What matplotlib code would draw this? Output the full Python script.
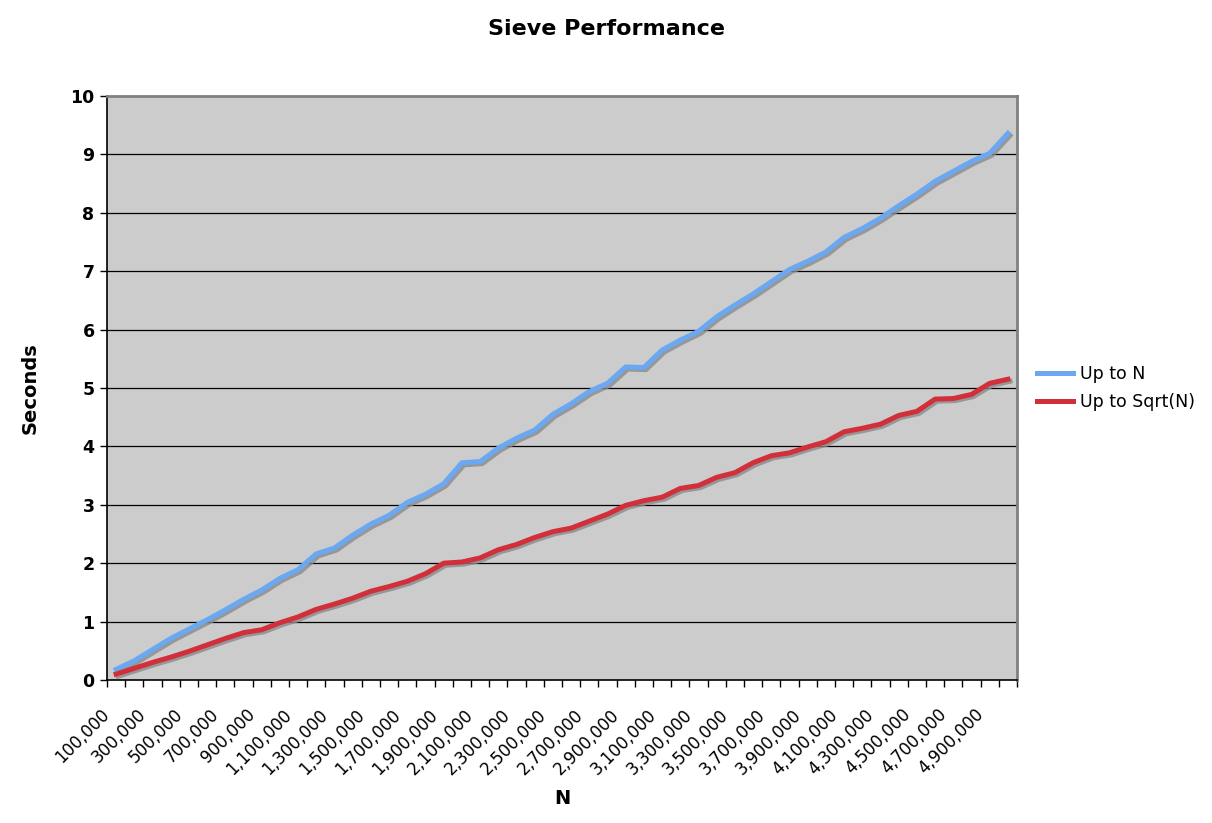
import numpy as np
import matplotlib
matplotlib.use("Agg")
import matplotlib.pyplot as plt
import matplotlib.patheffects as pe
from matplotlib.lines import Line2D

# N values (categories) and timings in seconds
n_values = list(range(100000, 5000001, 100000))
up_to_n = [0.18, 0.33, 0.52, 0.71, 0.87, 1.03, 1.20, 1.38, 1.54, 1.74,
           1.89, 2.16, 2.26, 2.48, 2.67, 2.82, 3.04, 3.18, 3.36, 3.72,
           3.74, 3.97, 4.14, 4.28, 4.55, 4.73, 4.94, 5.08, 5.36, 5.35,
           5.65, 5.82, 5.97, 6.22, 6.42, 6.61, 6.82, 7.03, 7.17, 7.33,
           7.58, 7.73, 7.91, 8.12, 8.32, 8.54, 8.71, 8.88, 9.02, 9.36]
up_to_sqrt = [0.10, 0.20, 0.30, 0.39, 0.49, 0.60, 0.71, 0.81, 0.86, 0.98,
              1.08, 1.21, 1.30, 1.40, 1.52, 1.60, 1.69, 1.82, 2.00, 2.02,
              2.09, 2.23, 2.32, 2.44, 2.54, 2.60, 2.72, 2.84, 2.99, 3.07,
              3.13, 3.28, 3.33, 3.47, 3.55, 3.72, 3.84, 3.89, 3.99, 4.08,
              4.25, 4.31, 4.38, 4.53, 4.60, 4.81, 4.82, 4.89, 5.08, 5.15]
labels = [f"{n:,}" for n in n_values]
blue, red = "#6aa8f2", "#d1303a"

fig = plt.figure(figsize=(12.12, 8.23), dpi=100)
ax = fig.add_axes([0.0883, 0.1738, 0.7508, 0.7095])
ax.set_facecolor("#cccccc")

x = np.arange(len(n_values))
shadow = [pe.SimpleLineShadow(offset=(1.5, -1.5), shadow_color="#8a8a8a", alpha=0.8), pe.Normal()]
ax.plot(x, up_to_n, color=blue, lw=3.6, path_effects=shadow, zorder=3)
ax.plot(x, up_to_sqrt, color=red, lw=3.6, path_effects=shadow, zorder=3)

ax.set_xlim(-0.5, len(n_values) - 0.5)
ax.set_ylim(0, 10)
ax.set_yticks(range(0, 11))
ax.set_yticklabels([str(v) for v in range(0, 11)], fontweight="bold", fontsize=12.5)
for v in range(1, 10):
    ax.axhline(v, color="black", lw=0.9, zorder=1)

# ticks between categories; every other label, hung from the category's left tick
ax.set_xticks(np.arange(-0.5, len(n_values), 1.0), minor=True)
ax.set_xticks(x[::2] - 0.5)
ax.set_xticklabels(labels[::2], rotation=45, ha="right", va="center",
                   rotation_mode="anchor", fontsize=12)
ax.tick_params(axis="x", which="both", length=5, width=1, direction="out",
               color="black", pad=18)
ax.tick_params(axis="y", length=5, width=1, direction="out", pad=4)

for side in ["top", "right"]:
    ax.spines[side].set_color("#808080")
    ax.spines[side].set_linewidth(2)
for side in ["left", "bottom"]:
    ax.spines[side].set_color("black")
    ax.spines[side].set_linewidth(1.2)

fig.text(0.5, 0.965, "Sieve Performance", ha="center", va="center",
         fontsize=16, fontweight="bold")
ax.set_ylabel("Seconds", fontsize=14, fontweight="bold", labelpad=22)
ax.set_xlabel("N", fontsize=14, fontweight="bold", labelpad=8)

handles = [Line2D([], [], color=blue, lw=3.6), Line2D([], [], color=red, lw=3.6)]
ax.legend(handles, ["Up to N", "Up to Sqrt(N)"], loc="center left",
          bbox_to_anchor=(1.0143, 0.5), borderaxespad=0, frameon=False,
          fontsize=12.5, handlelength=2.07, handletextpad=0.4, labelspacing=0.6)

fig.savefig("out.png", dpi=100)
